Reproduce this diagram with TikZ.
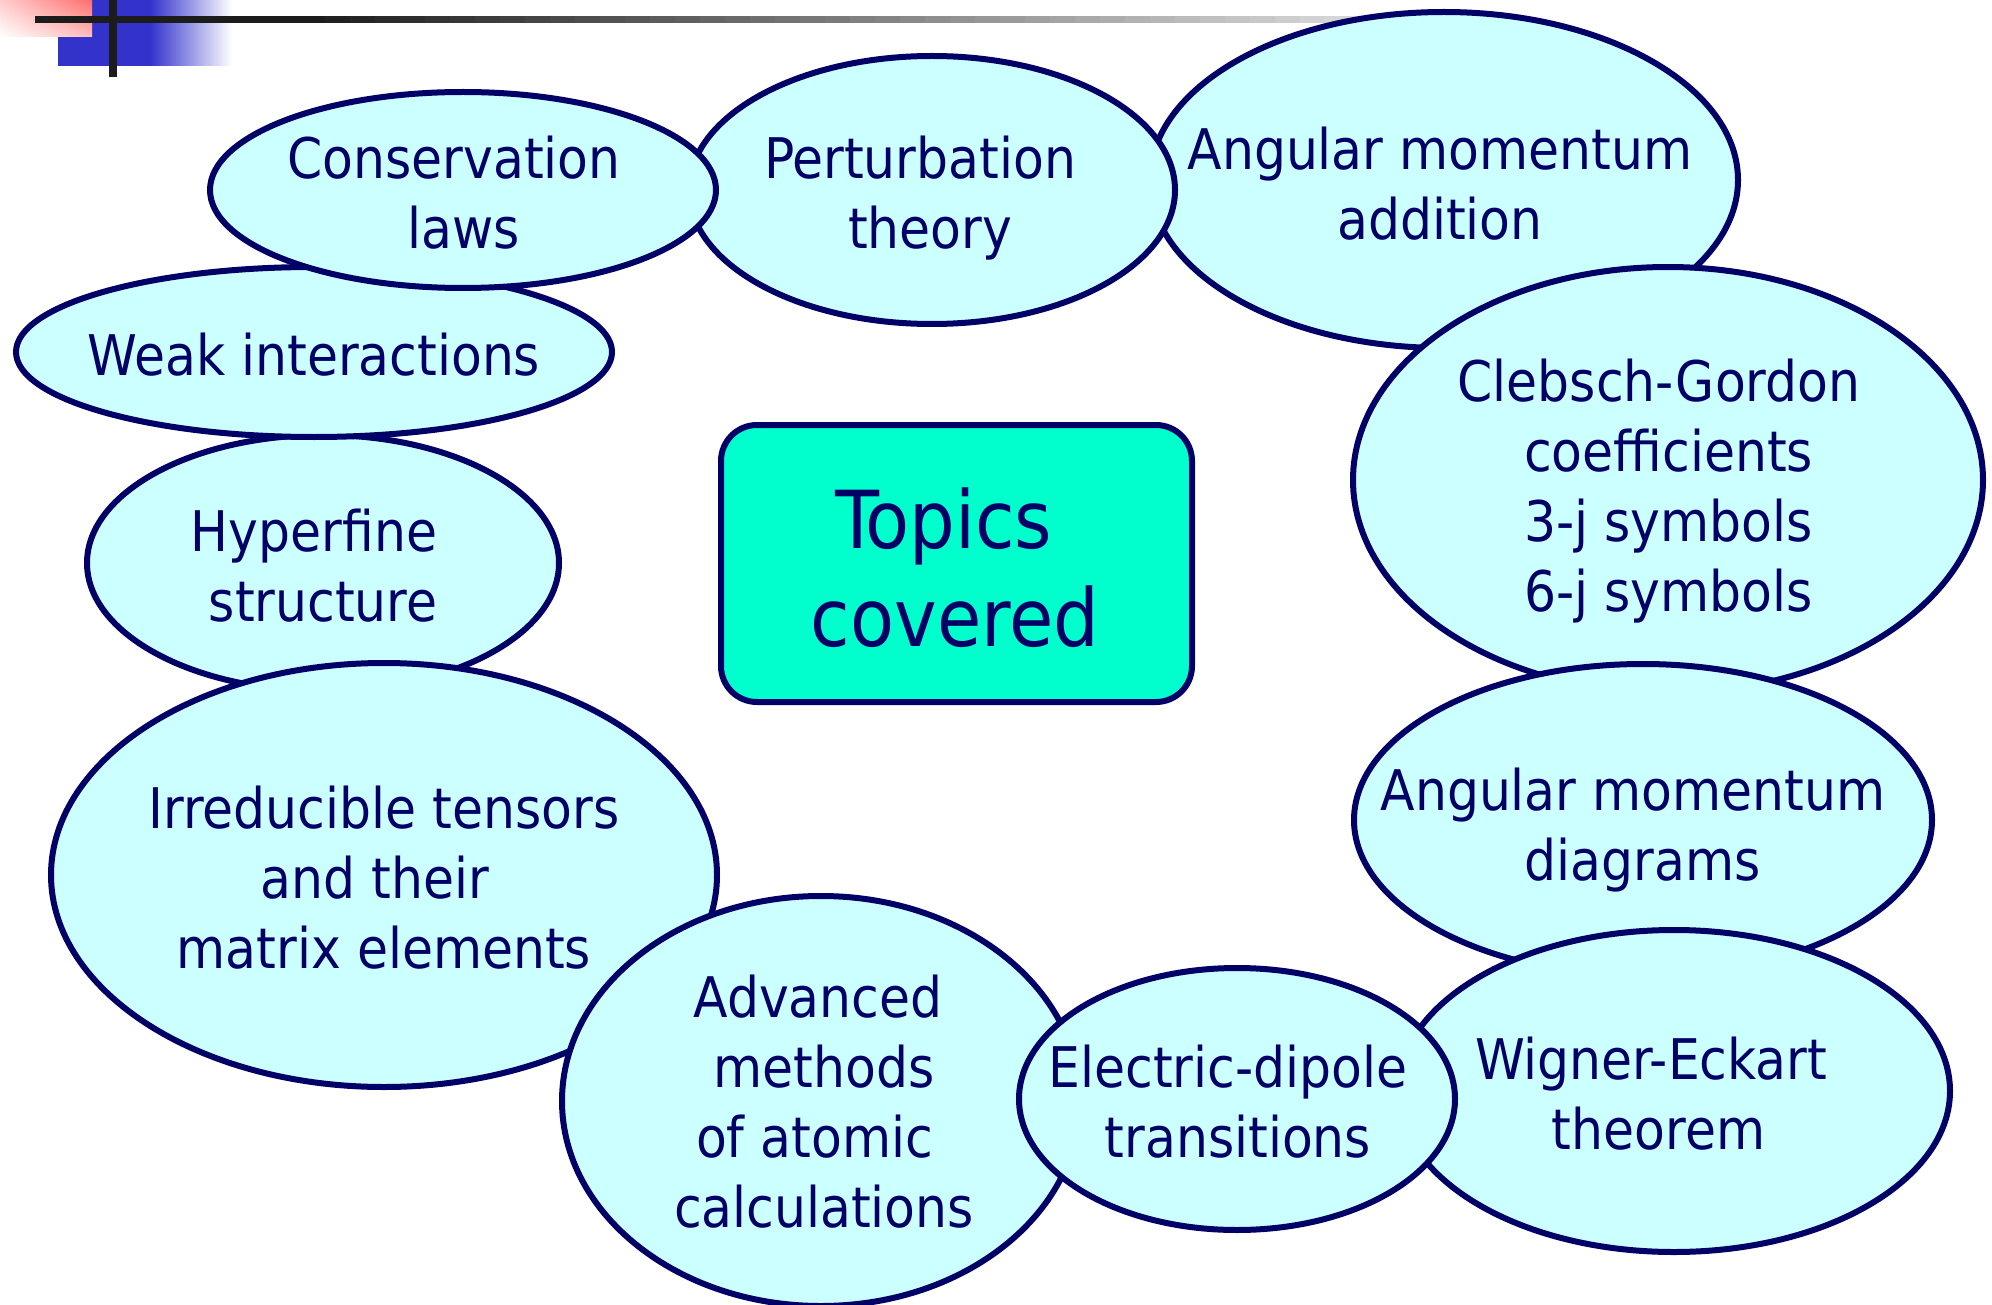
\documentclass[tikz,border=0pt]{standalone}
\usepackage{fontspec}
\setmainfont{DejaVu Sans Condensed}
\usetikzlibrary{shapes.geometric,shadings}
\definecolor{navy}{HTML}{000066}
\definecolor{lightcy}{HTML}{CCFFFF}
\definecolor{aqua}{HTML}{00FFCC}
\definecolor{decoblue}{HTML}{3333CC}
\definecolor{decored}{HTML}{FF6E6E}
\definecolor{decoblack}{HTML}{1C1C1C}
\tikzset{
  ell/.style={ellipse, draw=navy, line width=3pt, fill=lightcy, inner sep=0pt, outer sep=0pt},
  txt/.style={text=navy, align=center, inner sep=0pt, font=\fontsize{28}{35}\selectfont},
  titletxt/.style={text=navy, align=center, inner sep=0pt, font=\fontsize{40}{49}\selectfont},
  topicbox/.style={draw=navy, line width=3pt, fill=aqua, rounded corners=18pt}
}
\newcommand{\ind}[1]{\null\hspace*{#1pt}}
\newcommand{\trl}[1]{\hspace*{#1pt}\null}
\begin{document}
\begin{tikzpicture}[x=0.5pt,y=-0.5pt]
\useasboundingbox (0,0) rectangle (1992,1305);
% decoration
\fill[decoblue] (58,0) rectangle (151,66);
\shade[left color=decoblue, right color=white] (150,0) rectangle (232,66);
\shade[upper right=decored, upper left=decored!35, lower right=decored!45, lower left=white] (0,0) rectangle (92,37);
\fill[decoblack] (35,16) rectangle (301,23);
\foreach \k in {0,...,49}{
  \pgfmathsetmacro{\pc}{100-2*\k}
  \fill[decoblack!\pc!white] ({300+25*\k},16) rectangle ({326+25*\k},23);
}
\fill[decoblack] (109,0) rectangle (117,77);
% ellipses
\node[ell, minimum width=294pt, minimum height=168pt] (angadd) at (1444,180) {};
\node[ell, minimum width=243pt, minimum height=134pt] (pert) at (932,190) {};
\node[ell, minimum width=236pt, minimum height=128pt] (hyper) at (323,563) {};
\node[ell, minimum width=298pt, minimum height=85pt] (weak) at (314,352) {};
\node[ell, minimum width=253pt, minimum height=98pt] (cons) at (463,190) {};
\node[ell, minimum width=315pt, minimum height=213pt] (cg) at (1668,480) {};
\node[ell, minimum width=289pt, minimum height=156pt] (amd) at (1643,820) {};
\node[ell, minimum width=276pt, minimum height=161pt] (we) at (1674,1091) {};
\node[ell, minimum width=333pt, minimum height=212pt] (irr) at (384,875) {};
\node[ell, minimum width=259pt, minimum height=205pt] (adv) at (821,1101) {};
\node[ell, minimum width=218pt, minimum height=131pt] (ed) at (1237,1099) {};
% central box
\draw[topicbox] (721,425) rectangle (1192,702);
\node[titletxt] (topics) at (955,568) {Topics\trl{11.4}\\covered};
% texts
\node[txt] (tcons) at (454,193) {Conservation\\\ind{10}laws};
\node[txt] (tpert) at (920,198) {Perturbation\\\ind{10}theory};
\node[txt] (tangadd) at (1440,184) {Angular momentum\\addition};
\node[txt] (tweak) at (314,355) {Weak interactions};
\node[txt] (thyper) at (314,566) {Hyperfine\\\ind{9}structure};
\node[txt] (tcg) at (1659,491) {Clebsch-Gordon\\\ind{9.5}coefficients\\\ind{9.5}3-j symbols\\\ind{9.5}6-j symbols};
\node[txt] (tamd) at (1633,830) {Angular momentum\\\ind{9.5}diagrams};
\node[txt] (tirr) at (384,878) {Irreducible tensors\\and their\trl{9}\\matrix elements};
\node[txt] (tadv) at (824,1102) {Advanced\trl{6}\\methods\\of atomic\trl{9.5}\\calculations};
\node[txt] (ted) at (1228,1102) {Electric-dipole\\\ind{10}transitions};
\node[txt] (twe) at (1651,1094) {Wigner-Eckart\\\ind{7.5}theorem};
\end{tikzpicture}
\end{document}
